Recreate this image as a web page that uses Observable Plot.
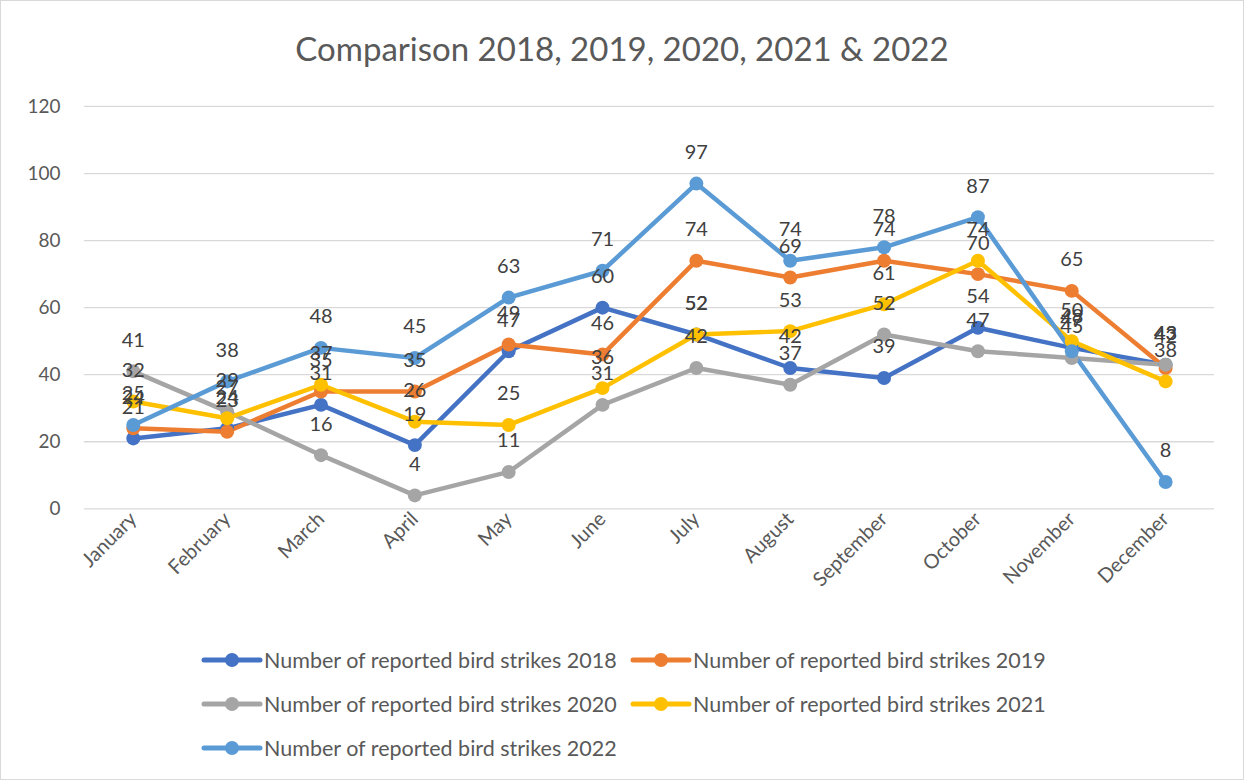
<!DOCTYPE html>
<html>
<head>
<meta charset="utf-8">
<script src="https://cdn.jsdelivr.net/npm/d3@7"></script>
<script src="https://cdn.jsdelivr.net/npm/@observablehq/plot@0.6"></script>
<style>
  html, body { margin: 0; padding: 0; background: #fff; }
  #wrap { position: relative; width: 1242px; height: 778px; border: 1px solid #d9d9d9; overflow: hidden; font-family: Lato, "Noto Sans", sans-serif; }
  #title { position: absolute; left: 0; top: 27px; width: 1242px; text-align: center; font-size: 33px; color: #595959; }
  #chart { position: absolute; left: 0; top: 90px; }
  #legend { position: absolute; left: 200px; top: 637px; display: grid; grid-template-columns: 429px 429px; row-gap: 0; }
  .item { display: flex; align-items: center; height: 44px; font-size: 21.5px; color: #595959; white-space: nowrap; }
  .item svg { margin-right: 1px; }
</style>
</head>
<body>
<div id="wrap">
  <div id="title">Comparison 2018, 2019, 2020, 2021 &amp; 2022</div>
  <div id="chart"></div>
  <div id="legend"></div>
</div>
<script>
const months = ["January","February","March","April","May","June","July","August","September","October","November","December"];
const seriesNames = [
  "Number of reported bird strikes 2018",
  "Number of reported bird strikes 2019",
  "Number of reported bird strikes 2020",
  "Number of reported bird strikes 2021",
  "Number of reported bird strikes 2022"
];
const colors = ["#4472C4", "#ED7D31", "#A5A5A5", "#FFC000", "#5B9BD5"];
const strikes2018 = [21, 24, 31, 19, 47, 60, 52, 42, 39, 54, 48, 43];
const strikes2019 = [24, 23, 35, 35, 49, 46, 74, 69, 74, 70, 65, 42];
const strikes2020 = [41, 29, 16, 4, 11, 31, 42, 37, 52, 47, 45, 43];
const strikes2021 = [32, 27, 37, 26, 25, 36, 52, 53, 61, 74, 50, 38];
const strikes2022 = [25, 38, 48, 45, 63, 71, 97, 74, 78, 87, 47, 8];
const yTicks = [0, 20, 40, 60, 80, 100, 120];

const allSeries = [strikes2018, strikes2019, strikes2020, strikes2021, strikes2022];
const data = [];
allSeries.forEach((vals, i) => {
  vals.forEach((v, j) => data.push({series: seriesNames[i], month: months[j], value: v}));
});

const chart = Plot.plot({
  width: 1244,
  height: 520,
  marginLeft: 83,
  marginRight: 29,
  marginTop: 15,
  marginBottom: 102,
  style: { fontFamily: "Lato, 'Noto Sans', sans-serif", background: "transparent" },
  x: { type: "point", domain: months, padding: 0.5, label: null },
  y: { domain: [0, 120], ticks: yTicks, label: null },
  color: { domain: seriesNames, range: colors },
  marks: [
    Plot.ruleY(yTicks, { stroke: "#d9d9d9", strokeWidth: 1.3 }),
    Plot.axisY({ ticks: yTicks, tickSize: 0, tickPadding: 24, fontSize: 19, color: "#595959", label: null }),
    Plot.axisX({ tickSize: 0, tickRotate: -45, tickPadding: 7, fontSize: 20, color: "#595959", label: null }),
    Plot.lineY(data, { x: "month", y: "value", z: "series", stroke: "series", strokeWidth: 4.5, strokeLinejoin: "round", strokeLinecap: "round" }),
    Plot.dot(data, { x: "month", y: "value", fill: "series", r: 7 }),
    Plot.text(data, { x: "month", y: "value", text: d => String(d.value), dy: -31, fontSize: 20, fill: "#404040" })
  ]
});
document.getElementById("chart").appendChild(chart);

const legend = document.getElementById("legend");
seriesNames.forEach((name, i) => {
  const item = document.createElement("div");
  item.className = "item";
  item.innerHTML = `<svg width="62" height="16"><line x1="3" y1="8" x2="59" y2="8" stroke="${colors[i]}" stroke-width="5" stroke-linecap="round"/><circle cx="31" cy="8" r="7" fill="${colors[i]}"/></svg><span>${name}</span>`;
  legend.appendChild(item);
});
</script>
</body>
</html>
